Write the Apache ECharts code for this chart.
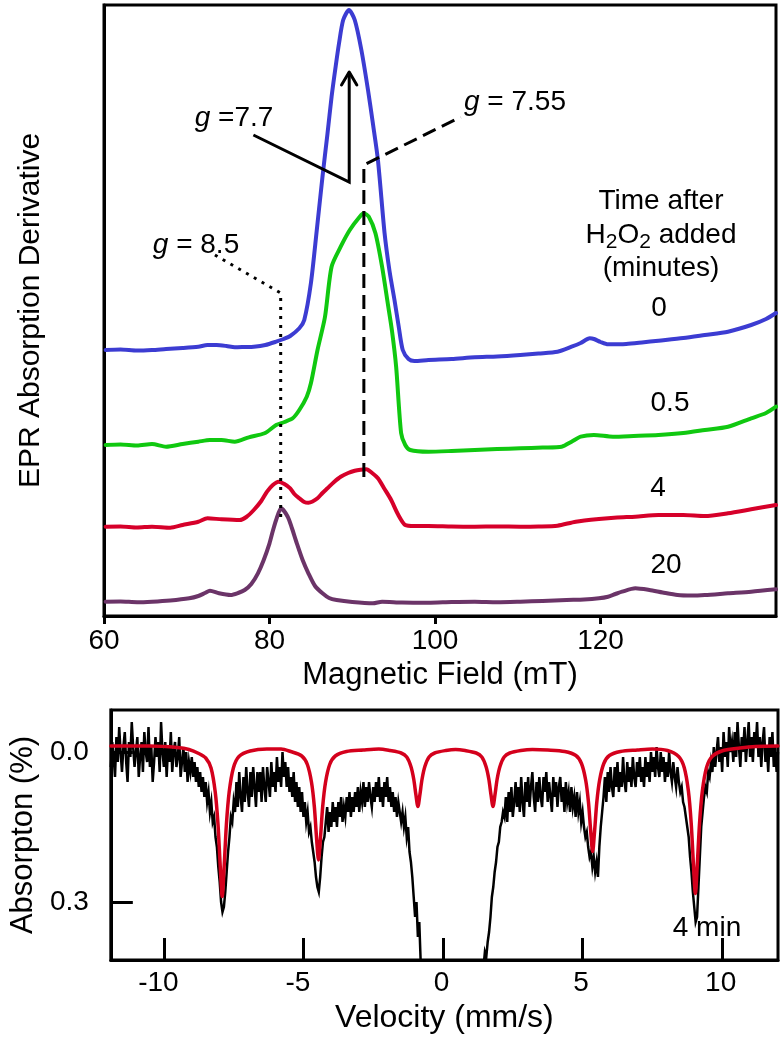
<!DOCTYPE html>
<html>
<head>
<meta charset="utf-8">
<script src="https://cdn.jsdelivr.net/npm/echarts/dist/echarts.min.js"></script>
<style>
html,body{margin:0;padding:0;background:#fff;}
#c{width:783px;height:1050px;}
</style>
</head>
<body>
<div id="c"></div>
<script>
// ---------- Top panel: EPR spectra (Magnetic field in mT, signal in arbitrary units) ----------
const fieldTicks = [60, 80, 100, 120];
const blue0 = [
[60.2,266],[62,266.5],[64,265.5],[65.8,266],[67.5,267],[69.5,268],[71.4,269.3],[72.5,271],[73.6,271],[74.8,270],[75.8,268.7],[77,269],[78.1,269.3],[79.5,271],[80.8,274.3],[81.7,277],[82.5,280],[83.6,287.7],[84.2,296],[85.0,332.7],[85.7,385],[86.4,439.3],[87.0,482],[87.5,519.3],[88.0,550],[88.4,572.7],[88.9,596],[89.6,606],[90.3,596],[91.1,566],[91.9,526],[92.5,492],[93.1,456],[93.9,383],[94.5,345],[95.1,316],[95.6,290],[96.1,266],[96.8,257],[97.5,255],[99.2,256],[102,257],[104.8,258.7],[107.5,259.5],[110.3,261],[112.5,262.5],[114.8,264.3],[116.5,269.3],[117.6,273],[118.7,277.7],[119.2,277],[120.0,274],[120.9,271.7],[123.1,272],[125,273.5],[127.0,275.3],[130,278],[132.6,281],[135.4,284.3],[138.2,291],[140,297],[141.2,303]
];
const green05 = [
[60.2,171],[62,171.5],[64,170.5],[65.8,172],[67.5,169.3],[69.5,172],[71.4,174.3],[72.8,176],[74.2,176],[75.8,174.3],[77.5,178.7],[79.4,182.7],[80.8,191],[81.8,194],[82.8,197.7],[83.6,206],[84.5,219.3],[85.0,232.7],[85.8,266],[86.7,299],[87.5,349.3],[88.6,369.3],[89.7,386],[90.9,399.3],[91.4,402.7],[92.0,399.3],[92.8,382.7],[93.6,349.3],[94.3,312],[94.8,285],[95.3,249.3],[95.9,183],[96.4,171],[97.0,166],[99.2,164.3],[102,165],[104.8,166],[107.5,167],[110.3,167.7],[113,168.5],[115.3,169.3],[116.5,174.3],[117.6,179.3],[119.2,181],[121.5,179.3],[124,180],[127.0,181],[130,183],[132.6,186],[135.4,189.3],[138.2,197.7],[140,203],[141.2,209.3]
];
const red4 = [
[60.2,89.3],[62,89.5],[64,88.5],[65.8,89.3],[68.0,88.3],[69.5,91],[71.4,94.3],[72.5,97.7],[74.2,96.7],[76.4,96],[77.2,99],[78.1,106],[79.0,115],[79.7,124.3],[80.4,131],[81.1,134.3],[81.8,132],[82.5,127.7],[83.0,122],[83.6,117.7],[84.2,114],[84.7,113.3],[85.2,114.5],[85.8,117.7],[86.4,123],[87.0,127.7],[87.8,134],[88.6,139.3],[89.5,143],[90.3,145.3],[91.0,146.3],[91.7,146.7],[92.4,143],[93.1,137.7],[93.9,127],[94.7,116],[95.5,102],[96.4,91],[97.5,90],[99.2,90],[102,89.5],[104.8,89.3],[107.5,89.5],[110.3,89.3],[112.5,89.5],[114.8,90.3],[117.0,94.3],[119.8,97],[122,98.5],[124.2,99.3],[127.0,101],[130,101],[132.6,100],[135.4,102.7],[138.2,106.7],[141.2,111]
];
const purple20 = [
[60.2,14.3],[62,14.5],[64,13.8],[65.8,14.3],[68,15.5],[70.3,17.7],[71.4,20],[72.2,23],[72.8,25.3],[73.9,22.7],[75.3,21],[76.2,23],[77.0,26],[77.8,32],[78.6,42.7],[79.3,56],[80.0,72.7],[80.4,85],[80.8,96],[81.4,107.7],[82.2,99.3],[82.7,88],[83.3,72.7],[84.0,56],[84.7,42.7],[85.5,30],[86.4,22.7],[87.2,18],[88.1,16],[90,14],[92.5,12.7],[93.6,14.3],[96,13.5],[99.2,13.3],[102,14],[104.8,14.3],[107.5,13.8],[110.3,14.3],[113,15],[115.9,16],[118,16.5],[119.8,17.7],[120.9,19.3],[121.8,22],[122.6,24.3],[124.2,27.7],[125.9,26],[127.5,23.5],[129.3,21],[131,20.5],[132.6,21],[135.4,22.7],[138.2,24.3],[141.2,26.7]
];
// annotation guide lines (field, signal)
const guide85 = [[81.35,99],[81.35,323],[73.0,363]];
const guide755 = [[91.4,139],[91.4,451],[103.1,499]];
const guide77 = [[78.05,481],[89.63,434],[89.63,544]];
const guide77Head = [[88.7,531],[89.63,544],[90.55,531]];

// ---------- Bottom panel: Mössbauer spectrum (velocity mm/s, absorption %) ----------
const velTicks = [-10, -5, 0, 5, 10];
const absTicks = [0, 0.3];
const mossData = [
[-11.90,0.03],[-11.85,-0.02],[-11.80,0.01],[-11.75,0.05],[-11.70,-0.03],[-11.65,0.02],[-11.60,-0.05],[-11.55,0.00],[-11.50,0.04],[-11.45,-0.01],
[-11.40,-0.04],[-11.35,0.02],[-11.30,0.06],[-11.25,-0.02],[-11.20,0.01],[-11.15,-0.06],[-11.10,-0.01],[-11.05,0.03],[-11.00,0.00],[-10.95,-0.03],
[-10.90,0.05],[-10.85,0.01],[-10.80,-0.02],[-10.75,0.04],[-10.70,-0.04],[-10.65,0.00],[-10.60,0.02],[-10.55,-0.05],[-10.50,0.03],[-10.45,-0.01],
[-10.40,0.06],[-10.35,0.02],[-10.30,-0.03],[-10.25,0.01],[-10.20,-0.02],[-10.15,0.04],[-10.10,-0.06],[-10.05,0.00],[-10.00,0.03],[-9.95,-0.02],
[-9.90,0.05],[-9.85,-0.01],[-9.80,0.02],[-9.75,-0.04],[-9.70,0.04],[-9.65,0.00],[-9.60,-0.02],[-9.55,0.03],[-9.50,0.01],[-9.45,-0.03],
[-9.40,0.05],[-9.35,0.02],[-9.30,-0.01],[-9.25,0.04],[-9.20,0.00],[-9.15,0.06],[-9.10,0.02],[-9.05,0.04],[-9.00,0.01],[-8.95,0.05],
[-8.90,0.02],[-8.85,0.06],[-8.80,0.03],[-8.75,0.07],[-8.70,0.04],[-8.65,0.08],[-8.60,0.05],[-8.55,0.09],[-8.50,0.06],[-8.45,0.10],
[-8.40,0.08],[-8.35,0.12],
[-8.30,0.10],[-8.25,0.14],[-8.20,0.13],[-8.15,0.17],[-8.10,0.19],[-8.05,0.23],[-8.00,0.26],[-7.95,0.30],[-7.90,0.32],[-7.85,0.31],
[-7.80,0.28],[-7.75,0.24],[-7.70,0.20],[-7.65,0.17],[-7.60,0.13],[-7.55,0.14],[-7.50,0.10],
[-7.45,0.12],[-7.40,0.06],[-7.35,0.11],[-7.30,0.04],[-7.25,0.09],[-7.20,0.12],[-7.15,0.05],[-7.10,0.10],[-7.05,0.03],[-7.00,0.08],
[-6.95,0.11],[-6.90,0.04],[-6.85,0.09],[-6.80,0.03],[-6.75,0.07],[-6.70,0.11],[-6.65,0.04],[-6.60,0.08],[-6.55,0.04],[-6.50,0.10],
[-6.45,0.03],[-6.40,0.07],[-6.35,0.10],[-6.30,0.03],[-6.25,0.06],[-6.20,0.09],[-6.15,0.02],[-6.10,0.07],[-6.05,0.04],[-6.00,0.08],
[-5.95,0.01],[-5.90,0.06],[-5.85,0.03],[-5.80,0.07],[-5.75,0.00],
[-5.70,0.05],[-5.65,0.02],[-5.60,0.07],[-5.55,0.03],[-5.50,0.08],[-5.45,0.05],[-5.40,0.09],[-5.35,0.04],[-5.30,0.10],[-5.25,0.06],
[-5.20,0.11],[-5.15,0.07],[-5.10,0.12],[-5.05,0.08],[-5.00,0.13],[-4.95,0.10],[-4.90,0.14],[-4.85,0.12],[-4.80,0.16],
[-4.75,0.15],[-4.70,0.18],[-4.65,0.20],[-4.60,0.22],[-4.55,0.25],[-4.50,0.27],[-4.45,0.28],[-4.40,0.25],[-4.35,0.21],[-4.30,0.18],
[-4.25,0.17],
[-4.20,0.14],[-4.15,0.11],[-4.10,0.16],[-4.05,0.12],[-4.00,0.15],[-3.95,0.10],[-3.90,0.14],[-3.85,0.11],[-3.80,0.15],[-3.75,0.10],
[-3.70,0.13],[-3.65,0.09],[-3.60,0.14],[-3.55,0.11],[-3.50,0.13],[-3.45,0.09],[-3.40,0.12],[-3.35,0.08],[-3.30,0.13],[-3.25,0.09],
[-3.20,0.12],[-3.15,0.08],[-3.10,0.11],[-3.05,0.07],[-3.00,0.12],[-2.95,0.08],[-2.90,0.10],[-2.85,0.06],[-2.80,0.11],[-2.75,0.07],
[-2.70,0.10],[-2.65,0.06],[-2.60,0.09],[-2.55,0.11],[-2.50,0.07],[-2.45,0.10],[-2.40,0.06],[-2.35,0.09],[-2.30,0.05],[-2.25,0.10],
[-2.20,0.07],[-2.15,0.11],[-2.10,0.06],[-2.05,0.09],[-2.00,0.05],[-1.95,0.10],[-1.90,0.07],[-1.85,0.11],[-1.80,0.08],[-1.75,0.12],
[-1.70,0.09],[-1.65,0.13],[-1.60,0.10],[-1.55,0.12],[-1.50,0.14],[-1.45,0.12],
[-1.40,0.15],[-1.35,0.13],[-1.30,0.17],[-1.25,0.15],[-1.20,0.20],[-1.15,0.22],[-1.10,0.25],[-1.05,0.29],[-1.00,0.33],[-0.95,0.30],
[-0.90,0.37],[-0.85,0.34],[-0.80,0.42],
[-0.70,0.50],[-0.50,0.56],[-0.20,0.60],[0.20,0.62],[0.60,0.60],[1.00,0.55],[1.30,0.48],[1.45,0.43],
[1.50,0.40],[1.55,0.41],[1.60,0.38],[1.65,0.36],[1.70,0.33],[1.75,0.29],[1.80,0.27],[1.85,0.24],[1.90,0.22],[1.95,0.19],
[2.00,0.18],[2.05,0.15],[2.10,0.14],[2.15,0.12],
[2.20,0.13],[2.25,0.09],[2.30,0.14],[2.35,0.08],[2.40,0.12],[2.45,0.07],[2.50,0.13],[2.55,0.10],[2.60,0.06],[2.65,0.11],
[2.70,0.07],[2.75,0.12],[2.80,0.05],[2.85,0.10],[2.90,0.13],[2.95,0.06],[3.00,0.10],[3.05,0.05],[3.10,0.11],[3.15,0.07],
[3.20,0.04],[3.25,0.09],[3.30,0.12],[3.35,0.06],[3.40,0.10],[3.45,0.05],[3.50,0.09],[3.55,0.11],[3.60,0.05],[3.65,0.08],
[3.70,0.04],[3.75,0.10],[3.80,0.06],[3.85,0.09],[3.90,0.12],[3.95,0.05],[4.00,0.09],[4.05,0.06],[4.10,0.11],[4.15,0.07],
[4.20,0.05],[4.25,0.10],[4.30,0.07],[4.35,0.12],[4.40,0.06],[4.45,0.10],[4.50,0.08],[4.55,0.12],[4.60,0.07],[4.65,0.11],
[4.70,0.09],[4.75,0.13],[4.80,0.08],[4.85,0.12],[4.90,0.10],[4.95,0.14],
[5.00,0.12],[5.05,0.15],[5.10,0.17],[5.15,0.16],[5.20,0.19],[5.25,0.21],[5.30,0.20],[5.35,0.23],[5.40,0.21],[5.45,0.24],
[5.50,0.22],[5.55,0.25],[5.60,0.19],[5.65,0.15],[5.70,0.12],
[5.75,0.09],[5.80,0.05],[5.85,0.10],[5.90,0.04],[5.95,0.08],[6.00,0.03],[6.05,0.07],[6.10,0.09],[6.15,0.03],[6.20,0.07],
[6.25,0.02],[6.30,0.08],[6.35,0.04],[6.40,0.07],[6.45,0.01],[6.50,0.06],[6.55,0.08],[6.60,0.02],[6.65,0.06],[6.70,0.03],
[6.75,0.07],[6.80,0.01],[6.85,0.05],[6.90,0.07],[6.95,0.02],[7.00,0.05],[7.05,0.01],[7.10,0.06],[7.15,0.03],[7.20,0.07],
[7.25,0.01],[7.30,0.05],[7.35,0.02],[7.40,0.06],
[7.45,0.00],[7.50,0.04],[7.55,0.01],[7.60,0.05],[7.65,-0.01],[7.70,0.03],[7.75,0.05],[7.80,0.00],[7.85,0.04],[7.90,0.01],
[7.95,0.06],[8.00,0.02],[8.05,0.05],[8.10,0.00],[8.15,0.04],[8.20,0.06],[8.25,0.02],[8.30,0.05],[8.35,0.07],[8.40,0.03],
[8.45,0.06],
[8.50,0.08],[8.55,0.07],[8.60,0.10],[8.65,0.11],[8.70,0.13],[8.75,0.15],[8.80,0.17],[8.85,0.21],[8.90,0.24],[8.95,0.28],
[9.00,0.31],[9.05,0.34],[9.10,0.33],[9.15,0.27],[9.20,0.21],[9.25,0.15],[9.30,0.12],[9.35,0.09],[9.40,0.07],[9.45,0.08],
[9.50,0.04],[9.55,0.05],
[9.60,0.02],[9.65,0.04],[9.70,-0.01],[9.75,0.03],[9.80,0.00],[9.85,-0.03],[9.90,0.02],[9.95,-0.01],[10.00,0.04],[10.05,-0.04],
[10.10,0.01],[10.15,-0.02],[10.20,0.03],[10.25,-0.05],[10.30,0.00],[10.35,-0.02],[10.40,0.02],[10.45,-0.04],[10.50,0.01],[10.55,-0.06],
[10.60,-0.01],[10.65,0.03],[10.70,-0.03],[10.75,0.00],[10.80,-0.05],[10.85,0.02],[10.90,-0.02],[10.95,-0.06],[11.00,0.01],[11.05,-0.03],
[11.10,0.02],[11.15,-0.04],[11.20,-0.01],[11.25,-0.06],[11.30,0.01],[11.35,-0.03],[11.40,0.03],[11.45,-0.02],[11.50,-0.05],[11.55,0.02],
[11.60,-0.01],[11.65,0.04],[11.70,-0.03],[11.75,0.01],[11.80,-0.04],[11.85,0.03],[11.90,-0.01],[11.95,0.04],[12.00,0.00]
];
const mossFit = [
[-11.9,-0.012],[-10.5,-0.012],[-9.51,-0.009],[-9.1,-0.005],[-8.75,0.003],[-8.5,0.012],[-8.31,0.032],[-8.16,0.080],[-8.06,0.145],[-7.98,0.229],[-7.91,0.289],[-7.84,0.229],[-7.76,0.145],[-7.66,0.080],[-7.51,0.032],[-7.31,0.009],[-6.91,-0.002],[-6.31,-0.006],[-5.8,-0.006],
[-5.46,-0.001],[-5.06,0.008],[-4.86,0.025],[-4.71,0.061],[-4.61,0.109],[-4.53,0.172],[-4.46,0.216],[-4.39,0.172],[-4.31,0.109],[-4.21,0.061],[-4.06,0.025],[-3.86,0.008],[-3.46,-0.001],[-2.86,-0.004],[-2.3,-0.006],
[-1.9,-0.003],[-1.5,0.002],[-1.3,0.010],[-1.15,0.029],[-1.05,0.054],[-0.97,0.086],[-0.90,0.109],[-0.83,0.086],[-0.75,0.054],[-0.65,0.029],[-0.5,0.010],[-0.3,0.002],[0.1,-0.003],[0.45,-0.005],
[0.79,-0.003],[1.19,0.002],[1.39,0.010],[1.54,0.029],[1.64,0.054],[1.72,0.086],[1.79,0.109],[1.86,0.086],[1.94,0.054],[2.04,0.029],[2.19,0.010],[2.39,0.002],[2.79,-0.003],[3.2,-0.005],
[3.76,-0.004],[4.36,-0.001],[4.76,0.007],[4.96,0.023],[5.11,0.056],[5.21,0.100],[5.29,0.158],[5.36,0.199],[5.43,0.158],[5.51,0.100],[5.61,0.056],[5.76,0.023],[5.96,0.007],[6.36,-0.001],[6.96,-0.004],[7.5,-0.006],
[8.04,-0.003],[8.44,0.009],[8.64,0.031],[8.79,0.078],[8.89,0.142],[8.97,0.224],[9.04,0.283],[9.11,0.224],[9.19,0.142],[9.29,0.078],[9.44,0.031],[9.64,0.009],[10.04,-0.003],[10.64,-0.008],[11.2,-0.011],[12,-0.012]
];

const FONT = '"Liberation Sans", Arial, Helvetica, sans-serif';
const chart = echarts.init(document.getElementById('c'), null, {renderer: 'canvas'});

function lineSeries(data, color, width, xi, extra) {
  return Object.assign({
    type: 'line', data: data, xAxisIndex: xi, yAxisIndex: xi,
    showSymbol: false, symbol: 'none', silent: true, animation: false,
    lineStyle: {color: color, width: width, cap: 'round', join: 'round'}
  }, extra || {});
}
function txt(x, y, text, size, rich) {
  return {type: 'text', x: x, y: y, silent: true,
    style: {text: text, fill: '#000', fontSize: size, fontFamily: FONT,
      align: 'center', verticalAlign: 'middle', textAlign: 'center', textVerticalAlign: 'middle',
      rich: rich || {}}};
}
const italic = {i: {fontStyle: 'italic', fontSize: 28, fontFamily: FONT}};

const option = {
  animation: false,
  backgroundColor: '#fff',
  textStyle: {fontFamily: FONT},
  grid: [
    {left: 104, top: 5, width: 672, height: 611, show: true, borderColor: '#000', borderWidth: 3, backgroundColor: 'transparent'},
    {left: 103, top: 710, width: 675, height: 250, show: true, borderColor: '#000', borderWidth: 3, backgroundColor: 'transparent'}
  ],
  xAxis: [
    {gridIndex: 0, type: 'value', min: 60, max: 141.2,
      axisLine: {show: true, onZero: false, lineStyle: {color: '#000', width: 3}},
      axisTick: {show: true, inside: false, length: 8, customValues: fieldTicks, lineStyle: {color: '#000', width: 3}},
      axisLabel: {customValues: fieldTicks, fontSize: 28, color: '#000', margin: 11, fontFamily: FONT},
      splitLine: {show: false},
      name: 'Magnetic Field (mT)', nameLocation: 'middle', nameGap: 42,
      nameTextStyle: {fontSize: 31, color: '#000', fontFamily: FONT}},
    {gridIndex: 1, type: 'value', min: -11.9, max: 12,
      axisLine: {show: true, onZero: false, lineStyle: {color: '#000', width: 3}},
      axisTick: {show: true, inside: true, length: 22, customValues: velTicks, lineStyle: {color: '#000', width: 3}},
      axisLabel: {customValues: velTicks, fontSize: 28, color: '#000', margin: 9, fontFamily: FONT,
        formatter: function (v) { return v < 0 ? '{neg|' + v + '}' : '{pos|' + v + '}'; },
        rich: {neg: {fontSize: 28, fontFamily: FONT, padding: [0, 11, 0, 0]},
               pos: {fontSize: 28, fontFamily: FONT, padding: [0, 3, 0, 0]}}},
      splitLine: {show: false},
      name: 'Velocity (mm/s)', nameLocation: 'middle', nameGap: 42,
      nameTextStyle: {fontSize: 32, color: '#000', fontFamily: FONT}}
  ],
  yAxis: [
    {gridIndex: 0, type: 'value', min: 0, max: 611,
      axisLine: {show: true, onZero: false, lineStyle: {color: '#000', width: 3}},
      axisTick: {show: false}, axisLabel: {show: false}, splitLine: {show: false},
      name: 'EPR Absorption Derivative', nameLocation: 'middle', nameGap: 58, nameRotate: 90,
      nameTextStyle: {fontSize: 30, color: '#000', fontFamily: FONT}},
    {gridIndex: 1, type: 'value', inverse: true, min: -0.084, max: 0.416,
      axisLine: {show: true, onZero: false, lineStyle: {color: '#000', width: 3}},
      axisTick: {show: true, inside: true, length: 22, customValues: absTicks, lineStyle: {color: '#000', width: 3}},
      axisLabel: {customValues: absTicks, fontSize: 28, color: '#000', margin: 22, fontFamily: FONT,
        formatter: function (v) { return Number(v).toFixed(1); }},
      splitLine: {show: false},
      name: 'Absorpton (%)', nameLocation: 'middle', nameGap: 64, nameRotate: 90,
      nameTextStyle: {fontSize: 31, color: '#000', fontFamily: FONT}}
  ],
  series: [
    lineSeries(blue0, '#3c3cd2', 4, 0, {smooth: 0.25}),
    lineSeries(green05, '#10c810', 4, 0, {smooth: 0.25}),
    lineSeries(red4, '#d6002a', 4, 0, {smooth: 0.25}),
    lineSeries(purple20, '#6b3468', 4, 0, {smooth: 0.25}),
    lineSeries(guide85, '#000', 3, 0, {lineStyle: {color: '#000', width: 3, type: [3, 6], cap: 'butt'}}),
    lineSeries(guide755, '#000', 3, 0, {lineStyle: {color: '#000', width: 3, type: [14, 7], cap: 'butt'}}),
    lineSeries(guide77, '#000', 3, 0, {lineStyle: {color: '#000', width: 3, join: 'miter', cap: 'butt'}}),
    lineSeries(guide77Head, '#000', 3, 0),
    lineSeries(mossData, '#000', 2.5, 1, {lineStyle: {color: '#000', width: 2.5, join: 'miter'}}),
    lineSeries(mossFit, '#d4001c', 3.5, 1, {smooth: 0.3})
  ],
  graphic: [
    txt(234, 118, '{i|g} =7.7', 28, italic),
    txt(515, 102, '{i|g} = 7.55', 28, italic),
    txt(196, 245, '{i|g} = 8.5', 28, italic),
    txt(661, 201, 'Time after', 28),
    txt(661, 235, '{n|H}{s|2}{n|O}{s|2}{n| added}', 28, {
      n: {fontSize: 28, fontFamily: FONT},
      s: {fontSize: 21, fontFamily: FONT, padding: [14, 0, 0, 0]}}),
    txt(661, 268, '(minutes)', 28),
    txt(659, 308, '0', 28),
    txt(670, 403, '0.5', 28),
    txt(658, 488, '4', 28),
    txt(666, 565, '20', 28),
    txt(707, 928, '4 min', 28)
  ]
};
chart.setOption(option);
</script>
</body>
</html>
